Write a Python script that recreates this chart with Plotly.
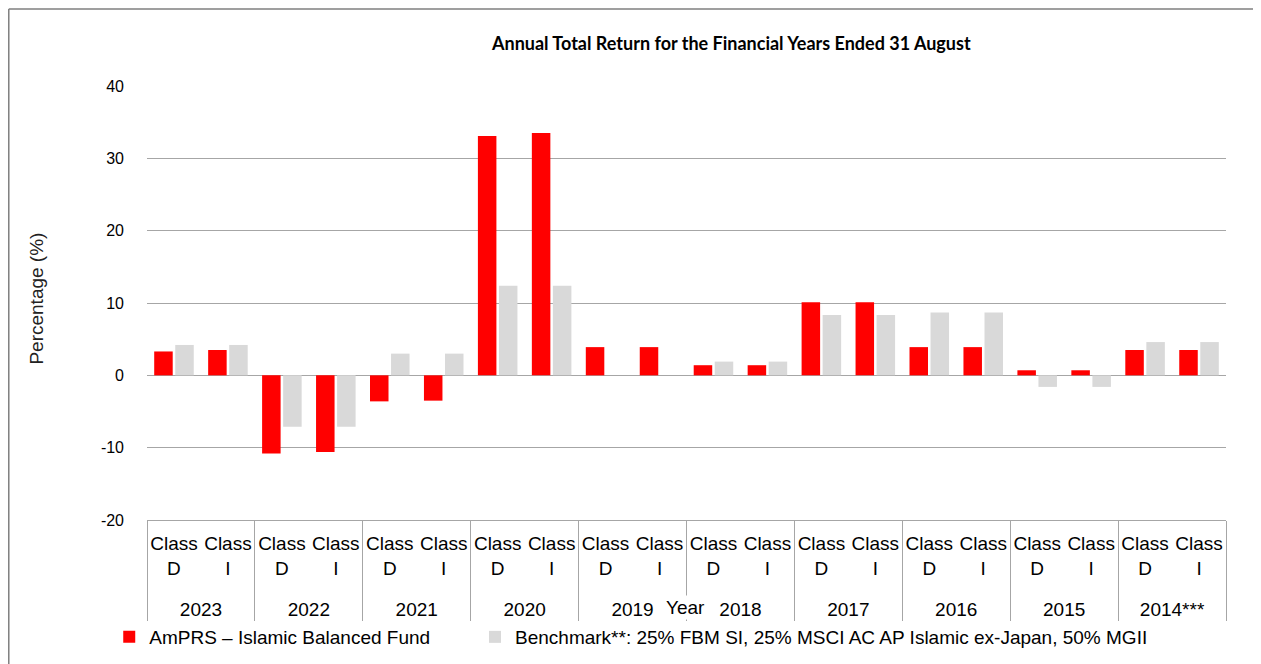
import plotly.graph_objects as go

years = ["2023", "2022", "2021", "2020", "2019", "2018", "2017", "2016", "2015", "2014***"]
classes = ["Class<br>D<br>\u00a0", "Class<br>I<br>\u00a0"]
fund_D = [3.3, -10.8, -3.6, 33.1, 3.9, 1.4, 10.1, 3.9, 0.7, 3.5]
fund_I = [3.5, -10.6, -3.5, 33.5, 3.9, 1.4, 10.1, 3.9, 0.7, 3.5]
bench_D = [4.2, -7.1, 3.0, 12.4, None, 1.9, 8.35, 8.7, -1.6, 4.6]
bench_I = [4.2, -7.1, 3.0, 12.4, None, 1.9, 8.35, 8.7, -1.6, 4.6]
y_ticks = [-20, -10, 0, 10, 20, 30, 40]
y_ticktext = ["-20", "-10", "0", "10", "20", "30", "40"]

x_year = []
x_class = []
fund = []
bench = []
for i, y in enumerate(years):
    for c in classes:
        x_year.append(y)
        x_class.append(c)
    fund += [fund_D[i], fund_I[i]]
    bench += [bench_D[i], bench_I[i]]

FONT = "Liberation Sans, Arial, sans-serif"

fig = go.Figure()
fig.add_trace(go.Bar(
    x=[x_year, x_class], y=fund, name="AmPRS \u2013 Islamic Balanced Fund",
    marker=dict(color="#ff0000", line=dict(width=0)), legend="legend",
))
fig.add_trace(go.Bar(
    x=[x_year, x_class], y=bench,
    name="Benchmark**: 25% FBM SI, 25% MSCI AC AP Islamic ex-Japan, 50% MGII",
    marker=dict(color="#d9d9d9", line=dict(width=0)), legend="legend2",
))

leg_common = dict(orientation="h", y=-0.2258, xanchor="left", yanchor="top",
                  font=dict(family=FONT, size=19, color="#000000"),
                  itemwidth=30, bgcolor="rgba(0,0,0,0)")

fig.update_layout(
    width=1253, height=656,
    margin=dict(l=139, r=35, t=78, b=144, autoexpand=False),
    paper_bgcolor="white", plot_bgcolor="white",
    barmode="group", bargap=0.22, bargroupgap=0.12,
    font=dict(family=FONT, size=19, color="#000000"),
    showlegend=True,
    legend=dict(x=-0.035, **leg_common),
    legend2=dict(x=0.304, **leg_common),
    xaxis=dict(
        type="multicategory", showgrid=False, showline=True, linecolor="#a6a6a6",
        linewidth=1, ticks="", showdividers=True, dividercolor="#a6a6a6", dividerwidth=1,
        ticklabelstandoff=6, tickangle=0,
        tickfont=dict(family=FONT, size=19, color="#000000"),
    ),
    yaxis=dict(
        range=[-20, 40], tickvals=y_ticks, ticktext=y_ticktext,
        showgrid=True, gridcolor="#a6a6a6", gridwidth=1.3,
        zeroline=True, zerolinecolor="#a6a6a6", zerolinewidth=1.3, showline=False,
        ticks="", ticklabelstandoff=22,
        tickfont=dict(family=FONT, size=16, color="#000000"),
    ),
    annotations=[
        dict(text="<b>Annual Total Return for the Financial Years Ended 31 August</b>",
             xref="paper", yref="paper", x=0.5412, y=1.099, xanchor="center", yanchor="middle",
             showarrow=False, font=dict(family="Lato, Open Sans, sans-serif", size=18, color="#000000")),
        dict(text="Percentage (%)", xref="paper", yref="paper", x=-0.102, y=0.51,
             xanchor="center", yanchor="middle", textangle=-90, showarrow=False,
             font=dict(family=FONT, size=19, color="#222222")),
        dict(text="Year", xref="paper", yref="paper", x=0.4995, y=-0.2005,
             xanchor="center", yanchor="middle", showarrow=False, bgcolor="white",
             font=dict(family=FONT, size=19, color="#000000")),
    ],
    shapes=[
        dict(type="line", xref="paper", yref="paper", x0=-0.1281, x1=1.04, y0=1.1774, y1=1.1774,
             line=dict(color="#7f7f7f", width=1.5)),
        dict(type="line", xref="paper", yref="paper", x0=-0.1281, x1=-0.1281, y0=1.1774, y1=-0.34,
             line=dict(color="#7f7f7f", width=1.5)),
    ],
)

fig.write_html("out.html")
